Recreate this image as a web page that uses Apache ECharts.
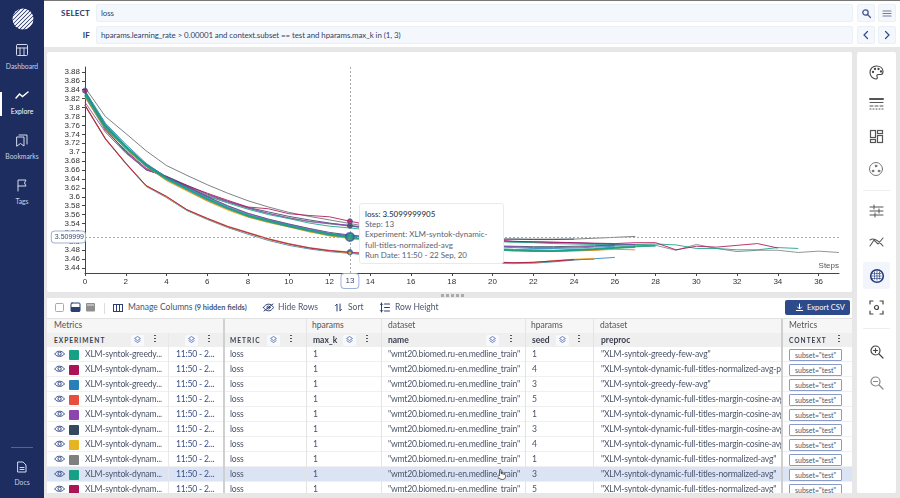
<!DOCTYPE html>
<html>
<head>
<meta charset="utf-8">
<title>Explore</title>
<script src="https://cdn.jsdelivr.net/npm/echarts@6/dist/echarts.min.js"></script>
<style>
html,body{margin:0;padding:0;width:900px;height:498px;overflow:hidden;background:#e7e7e7;font-family:Lato,sans-serif;color:#414b6a}
.abs,.abs *{box-sizing:border-box}
.abs{position:absolute;white-space:nowrap}
svg{display:block;overflow:visible}
.nav{left:0;width:44px;text-align:center;font-size:6.8px;color:#c6cfe6}
.inp{left:96px;width:757px;height:18px;background:#f4f8fd;border:1px solid #eaf0f8;border-radius:2px;font-size:7.9px;letter-spacing:-.07px;line-height:16px;padding-left:4px;color:#33405f}
.lbl{width:50px;left:40px;text-align:right;font-size:8px;letter-spacing:.2px;font-weight:700;color:#27386b}
.btn{width:18px;height:18px;background:#f4f8fd;border:1px solid #eaf0f8;border-radius:2px}
.tool{font-size:8.5px;color:#4a5570;top:302px}
.cell{font-size:8.6px;letter-spacing:-.2px;overflow:hidden;color:#4b5468}
</style>
</head>
<body>
<div class="abs" style="left:0;top:0;width:900px;height:1px;background:#777"></div>
<div class="abs" style="left:44px;top:1px;width:856px;height:46px;background:#fff"></div>
<div class="abs" style="left:0;top:0;width:44px;height:498px;background:#1e2d5f"></div>
<div id="side"></div>

<div class="abs lbl" style="top:8px">SELECT</div>
<div class="abs lbl" style="top:30px">IF</div>
<div class="abs inp" style="top:4px">loss</div>
<div class="abs inp" style="top:26px">hparams.learning_rate &gt; 0.00001 and context.subset == test and hparams.max_k in (1, 3)</div>
<div id="btns"></div>

<div class="abs" style="left:47px;top:52px;width:805px;height:240px;background:#fff;border-radius:2px"></div>
<div id="chart" class="abs" style="left:47px;top:52px;width:805px;height:240px"></div>
<div class="abs" style="left:359px;top:203px;width:145px;height:61px;background:#fff;border:1px solid #e6eaf3;border-radius:3px;padding:5px 5px;font-size:8px;line-height:10.2px;color:#5a6272">
<div style="color:#333a4a;font-weight:500">loss: 3.5099999905</div>
<div>Step: 13</div>
<div>Experiment: XLM-syntok-dynamic-<br>full-titles-normalized-avg</div>
<div>Run Date: 11:50 - 22 Sep, 20</div>
</div>

<div class="abs" style="left:857px;top:52px;width:39px;height:441px;background:#fff;border-radius:2px"></div>
<div id="rightIcons"></div>
<div id="dots"></div>

<div class="abs" style="left:47px;top:298px;width:805px;height:195px;background:#fff;overflow:hidden" id="table"></div>
<div id="toolbar"></div>

<script>
// categories, steps and hover readings
var yTicks = [3.44,3.46,3.48,3.5,3.52,3.54,3.56,3.58,3.6,3.62,3.64,3.66,3.68,3.7,3.72,3.74,3.76,3.78,3.8,3.82,3.84,3.86,3.88];
var hoverStep = 13;
var hoverValue = 3.5099999;
var markerSteps = [0, 13, 13, 13, 13, 13];
var markerValues = [3.838, 3.545, 3.535, 3.51, 3.476, 3.474];
var markerColors = ['#ad1457', '#ad1457', '#34495e', '#16a085', '#2f4a8c', '#f1c40f'];
var markerSizes = [5, 5, 5, 8, 5, 4];

// lower group
var lowBlue = [3.804,3.729,3.674,3.623,3.598,3.569,3.549,3.531,3.516,3.502,3.491,3.483,3.477,3.473,3.469,3.465,3.461,3.458,3.455,3.453,3.451,3.450,3.451,3.454,3.458,3.461,3.464];
var lowRed = [3.806,3.731,3.676,3.625,3.600,3.571,3.552,3.534,3.520,3.506,3.495,3.486,3.480,3.476,3.471,3.467,3.463,3.460,3.457,3.455,3.453,3.452,3.453,3.456,3.459,3.460];
var lowYellow = [3.805,3.730,3.675,3.624,3.599,3.570,3.550,3.532,3.518,3.504,3.493,3.485,3.478,3.474,3.470,3.466,3.462,3.459,3.456,3.454,3.452,3.451,3.452,3.457,3.460,3.462];
var lowPink = [3.805,3.730,3.675,3.625,3.601,3.571,3.551,3.533,3.519,3.505,3.494,3.485,3.479,3.475,3.472,3.468,3.464,3.461,3.458,3.456,3.454,3.452,3.453,3.456,3.459];

// middle group
var midYellow = [3.822,3.752,3.708,3.668,3.636,3.613,3.590,3.570,3.554,3.542,3.532,3.521,3.512,3.506,3.501,3.497,3.493,3.490,3.487,3.485,3.482,3.480,3.478,3.477,3.478,3.480,3.484,3.488,3.491];
var midOrange = [3.824,3.753,3.709,3.669,3.637,3.614,3.591,3.572,3.555,3.543,3.533,3.522,3.513,3.507,3.502,3.498,3.494,3.490,3.487,3.484,3.481,3.480,3.479,3.478,3.479,3.480,3.482,3.481];
var midPurple = [3.832,3.758,3.712,3.672,3.644,3.622,3.599,3.579,3.562,3.549,3.538,3.528,3.518,3.513,3.508,3.504,3.500,3.497,3.494,3.491,3.489,3.488,3.486,3.486,3.487,3.489,3.491,3.493];
var midNavy = [3.836,3.760,3.713,3.673,3.645,3.623,3.600,3.580,3.563,3.550,3.539,3.529,3.520,3.514,3.510,3.506,3.502,3.498,3.495,3.493,3.490,3.489,3.488,3.488,3.489,3.490,3.492];
var midBlue = [3.838,3.765,3.718,3.675,3.643,3.620,3.597,3.577,3.560,3.547,3.537,3.526,3.517,3.512,3.507,3.503,3.499,3.496,3.493,3.490,3.488,3.486,3.484,3.484,3.485,3.487,3.489];
var midTeal = [3.828,3.755,3.711,3.670,3.640,3.617,3.594,3.574,3.557,3.545,3.534,3.524,3.515,3.510,3.505,3.501,3.497,3.494,3.490,3.486,3.483,3.481,3.480,3.479,3.481,3.483,3.486,3.489,3.490];
var midTealB = [3.834,3.762,3.714,3.671,3.641,3.618,3.595,3.575,3.558,3.546,3.535,3.525,3.516,3.509,3.504,3.500,3.496,3.492,3.489,3.485,3.482,3.479,3.478,3.478,3.480,3.482,3.485,3.487];

// upper group
var upGray = [3.845,3.780,3.742,3.703,3.670,3.648,3.627,3.608,3.591,3.577,3.565,3.556,3.548,3.540,3.532,3.526,3.520,3.515,3.511,3.508,3.505,3.505,3.505,3.505,3.505,3.507,3.509,3.511];
var upGrayB = [3.826,3.748,3.702,3.662,3.643,3.622,3.602,3.588,3.574,3.562,3.552,3.544,3.539,3.534,3.528,3.522,3.517,3.512,3.508,3.504,3.501,3.499,3.498,3.497,3.496,3.495,3.494,3.493,3.491,3.480,3.493,3.484,3.477,3.480,3.480,3.475,3.478,3.475];
var upNavy = [3.836,3.752,3.700,3.660,3.646,3.626,3.606,3.590,3.576,3.566,3.556,3.548,3.541,3.535,3.529,3.523,3.518,3.513,3.509,3.506,3.505,3.505,3.504,3.504,3.505];
var upPink = [3.838,3.750,3.703,3.664,3.644,3.625,3.608,3.592,3.577,3.573,3.562,3.558,3.555,3.545,3.536,3.528,3.521,3.515,3.510,3.506,3.503,3.500,3.499,3.498,3.497,3.496,3.495,3.497,3.497,3.481,3.489,3.487,3.491,3.495,3.485];
var upTeal = [3.830,3.758,3.706,3.668,3.642,3.622,3.601,3.586,3.572,3.560,3.551,3.541,3.534,3.530,3.525,3.520,3.515,3.511,3.507,3.503,3.500,3.498,3.497,3.495,3.494,3.493,3.492,3.493,3.494,3.492,3.484,3.484,3.481,3.481,3.486,3.484];
var upPurple = [3.812,3.745,3.698,3.661,3.645,3.624,3.604,3.589,3.575,3.563,3.553,3.545,3.540,3.536,3.530,3.524,3.519,3.514,3.510,3.506,3.503,3.500,3.499,3.498,3.497,3.495,3.493,3.492];

// table rows
var rowColors = ['#16a085','#ad1457','#2980b9','#e74c3c','#8e44ad','#34495e','#e6b422','#7f7f7f','#16a085','#ad1457'];
var experiments = ['XLM-syntok-greedy...','XLM-syntok-dynam...','XLM-syntok-greedy...','XLM-syntok-dynam...','XLM-syntok-dynam...','XLM-syntok-dynam...','XLM-syntok-dynam...','XLM-syntok-dynam...','XLM-syntok-dynam...','XLM-syntok-dynam...'];
var seeds = ['1','4','3','5','1','3','4','1','3','5'];
var preprocs = ['"XLM-syntok-greedy-few-avg"','"XLM-syntok-dynamic-full-titles-normalized-avg-pe','"XLM-syntok-greedy-few-avg"','"XLM-syntok-dynamic-full-titles-margin-cosine-avg','"XLM-syntok-dynamic-full-titles-margin-cosine-avg','"XLM-syntok-dynamic-full-titles-margin-cosine-avg','"XLM-syntok-dynamic-full-titles-margin-cosine-avg','"XLM-syntok-dynamic-full-titles-normalized-avg"','"XLM-syntok-dynamic-full-titles-normalized-avg"','"XLM-syntok-dynamic-full-titles-normalized-avg"'];

function line(values, color, width){
    return {
        type:'line', symbol:'none', silent:true, animation:false,
        data:values.map(function (v, i){ return [i, v]; }),
        lineStyle:{color:color, width:width || 1, opacity:0.85}
    };
}

var series = [
    line(lowBlue,'#2980b9'), line(lowYellow,'#e6b422'), line(lowRed,'#e74c3c'), line(lowPink,'#a01d50'),
    line(upGray,'#666c70'), line(upGrayB,'#7f8487'), line(upNavy,'#34495e'), line(upPurple,'#8e44ad'),
    line(upTeal,'#16a085'), line(upPink,'#ad1457'),
    line(midYellow,'#e6b422'), line(midOrange,'#e67e22'), line(midNavy,'#34495e'), line(midPurple,'#8e44ad'),
    line(midBlue,'#2980b9'), line(midTealB,'#16a085',1.5), line(midTeal,'#16a085',2)
];

// hover crosshair and dots
series.push({
    type:'scatter', silent:true, animation:false, z:5,
    data:markerSteps.map(function (s, i){
        return {
            value:[s, markerValues[i]],
            symbolSize:markerSizes[i],
            itemStyle:{color:markerColors[i], borderColor:'#3d5a9c', borderWidth:i === 3 ? 2 : 1}
        };
    }),
    markLine:{
        silent:true, animation:false, symbol:'none',
        lineStyle:{type:[2,2], color:'#a9a9a9', width:1},
        data:[
            [{coord:[hoverStep,3.429], label:{
                show:true, position:'start', formatter:String(hoverStep), color:'#3d4a6d', fontSize:8,
                backgroundColor:'#fff', borderColor:'#9fb0d8', borderWidth:1, borderRadius:3, padding:[3,4,3,4], distance:1
            }},{coord:[hoverStep,3.891]}],
            [{coord:[0,hoverValue], label:{
                show:true, position:'start', formatter:'3.509999', color:'#3d4a6d', fontSize:7,
                backgroundColor:'#fff', borderColor:'#9fb0d8', borderWidth:1, borderRadius:3, padding:[2,1,2,3], distance:0
            }},{coord:[37,hoverValue]}]
        ]
    }
});

var chart = echarts.init(document.getElementById('chart'));
chart.setOption({
    animation:false,
    backgroundColor:'transparent',
    grid:{left:38, top:15, width:754, height:206, containLabel:false},
    xAxis:{
        type:'value', min:0, max:37, interval:2,
        name:'Steps', nameLocation:'end', nameGap:0,
        nameTextStyle:{align:'right', verticalAlign:'bottom', padding:[0,0,3,0], fontSize:8, color:'#555', fontFamily:'Liberation Sans'},
        splitLine:{show:false},
        axisLine:{lineStyle:{color:'#444'}},
        axisTick:{length:3, lineStyle:{color:'#444'}},
        axisLabel:{fontSize:8, color:'#333', margin:5, showMaxLabel:false, fontFamily:'Liberation Sans'}
    },
    yAxis:{
        type:'value', min:3.429, max:3.891,
        splitLine:{show:false},
        axisLine:{show:true, lineStyle:{color:'#444'}},
        axisTick:{show:true, length:3, lineStyle:{color:'#444'}, customValues:yTicks},
        axisLabel:{fontSize:8, color:'#333', margin:5, customValues:yTicks, fontFamily:'Liberation Sans', formatter:function (v){ return String(+v.toFixed(2)); }}
    },
    series:series
});

// ------- page chrome -------
function el(html){ var d = document.createElement('div'); d.innerHTML = html; return d; }
function svg(x, y, w, h, body, extra){
    return '<div class="abs" style="left:'+x+'px;top:'+y+'px;width:'+w+'px;height:'+h+'px"><svg width="'+w+'" height="'+h+'" viewBox="0 0 '+w+' '+h+'" fill="none" stroke-linecap="round" '+(extra||'')+'>'+body+'</svg></div>';
}

var sideHtml = '';
// logo
var stripes = '';
[-15,-11,-7,-3,1,5,9,13].forEach(function (o){ stripes += '<line x1="'+(o-13)+'" y1="13" x2="'+(o+13)+'" y2="-13"/>'; });
sideHtml += svg(12,8,22,22,'<defs><clipPath id="lc"><circle cx="11" cy="11" r="10.5"/></clipPath></defs><g clip-path="url(#lc)"><g transform="translate(11,11)" stroke-width="2">'+stripes+'</g></g>','stroke="#fff"');
[['Dashboard',67],['Explore',112],['Bookmarks',157],['Tags',202],['Docs',483]].forEach(function (n){
    sideHtml += '<div class="abs nav" style="top:'+(n[1]-5)+'px;'+(n[0]==='Explore'?'color:#fff':'')+'">'+n[0]+'</div>';
});
sideHtml += svg(16,44,12,12,'<rect x=".5" y=".5" width="11" height="11" rx="1"/><path d="M.5 4h11M4 4v7.5M8 4v7.5"/>','stroke="#d5dbec"');
sideHtml += svg(15,91,14,8,'<path d="M1 7l3.5-4 3 2.5L13 1" stroke-width="1.5"/>','stroke="#fff"');
sideHtml += svg(16,134,12,13,'<path d="M3 1h8v9M1 3h7v9L4.5 9.5 1 12z"/>','stroke="#d5dbec"');
sideHtml += svg(17,179,11,12,'<path d="M1 12V1h8l-1.5 3L9 7H1"/>','stroke="#d5dbec"');
sideHtml += svg(17,461,10,12,'<path d="M1 1h5l3 3v7H1zM3 6.5h4M3 8.5h4"/>','stroke="#d5dbec"');
sideHtml += '<div class="abs" style="left:0;top:92px;width:2px;height:24px;background:#fff"></div>';
sideHtml += '<div class="abs" style="left:11px;top:447px;width:22px;height:1px;background:#56648f"></div>';
document.getElementById('side').appendChild(el(sideHtml));

var btnHtml = '';
[[857,4],[878,4],[857,26],[878,26]].forEach(function (b){ btnHtml += '<div class="abs btn" style="left:'+b[0]+'px;top:'+b[1]+'px"></div>'; });
btnHtml += svg(862,9,9,9,'<circle cx="3.5" cy="3.5" r="2.7"/><path d="M5.5 5.5L8.5 8.5"/>','stroke="#43578f" stroke-width="1.3"');
btnHtml += svg(883,10,8,7,'<path d="M0 1h8M0 3.5h8M0 6h8"/>','stroke="#6b7ba8" stroke-width="1.2"');
btnHtml += svg(863,31,5,8,'<path d="M4.5 .5L1 4l3.5 3.5"/>','stroke="#2f4a8c" stroke-width="1.2"');
btnHtml += svg(885,31,5,8,'<path d="M.5 .5L4 4 .5 7.5"/>','stroke="#2f4a8c" stroke-width="1.2"');
document.getElementById('btns').appendChild(el(btnHtml));

var rh = '';
rh += svg(869,65,15,15,'<path d="M7.5 1C3.5 1 1 4 1 7.5S4 14 7 14c1.5 0 1.5-1.5 1-2.5s0-2 1.5-2H12c1.5 0 2-1.5 2-3C14 3 11 1 7.5 1z"/><circle cx="4" cy="7" r=".6"/><circle cx="6" cy="4" r=".6"/><circle cx="9.5" cy="4" r=".6"/><circle cx="12" cy="6.5" r=".6"/>','stroke="#444" stroke-width="1.1"');
rh += svg(870,98,13,13,'<path d="M0 1h13" stroke-width="2"/><path d="M0 4.5h13M0 8h3M5 8h3M10 8h3" stroke-width="1"/><path d="M0 11h1M3 11h1M6 11h1M9 11h1M12 11h1" stroke-width="1"/>','stroke="#555"');
rh += svg(870,130,13,13,'<rect x=".5" y=".5" width="5" height="7"/><rect x="7.5" y=".5" width="5" height="3"/><rect x=".5" y="9.5" width="5" height="3"/><rect x="7.5" y="5.5" width="5" height="7"/>','stroke="#555" stroke-width="1.2"');
rh += svg(869,162,14,14,'<circle cx="7" cy="7" r="6.5"/><circle cx="7" cy="4" r=".9" fill="#666"/><circle cx="4" cy="9" r=".9" fill="#666"/><circle cx="10" cy="9" r=".9" fill="#666"/>','stroke="#777"');
rh += '<div class="abs" style="left:863px;top:190px;width:27px;height:1px;background:#eee"></div>';
rh += svg(870,205,13,12,'<path d="M0 2h13M0 6h13M0 10h13"/><path d="M4 0v4M9 4v4M5 8v4"/>','stroke="#555"');
rh += svg(869,237,15,10,'<path d="M1 9l4-6 4 4 5-6M1 3c4-3 8 0 13 6"/>','stroke="#555" stroke-width="1.1"');
rh += '<div class="abs" style="left:863px;top:262px;width:27px;height:27px;background:#f2f6fc;border-radius:2px"></div>';
rh += svg(870,269,14,14,'<circle cx="7" cy="7" r="6.3" stroke-width="1.6"/><path d="M4.5 3v8M7 2v10M9.5 3v8M2 4.5h10M2 7h10M2 9.5h10" stroke-width=".7" stroke-dasharray="1 1"/>','stroke="#243a78"');
rh += svg(870,301,13,13,'<path d="M0 3V0h3M10 0h3v3M13 10v3h-3M3 13H0v-3"/><circle cx="6.5" cy="6.5" r="2"/>','stroke="#444" stroke-width="1.2"');
rh += '<div class="abs" style="left:863px;top:328px;width:27px;height:1px;background:#eee"></div>';
rh += svg(870,345,14,14,'<circle cx="5.5" cy="5.5" r="4.5"/><path d="M9 9l4 4M3.5 5.5h4M5.5 3.5v4"/>','stroke="#444" stroke-width="1.2"');
rh += svg(870,376,14,14,'<circle cx="5.5" cy="5.5" r="4.5"/><path d="M9 9l4 4M3.5 5.5h4"/>','stroke="#888" stroke-width="1.2"');
document.getElementById('rightIcons').appendChild(el(rh));

var dotsHtml = '';
[441,446,451,456,461].forEach(function (x){ dotsHtml += '<div class="abs" style="left:'+x+'px;top:294px;width:2.5px;height:2.5px;background:#aaa"></div>'; });
document.getElementById('dots').appendChild(el(dotsHtml));

// toolbar
var tb = '';
tb += svg(55,303,10,9,'<rect x=".5" y=".5" width="8" height="8" rx="1" stroke="#aaa"/>');
tb += svg(71,303,9,9,'<rect x="0" y="0" width="9" height="8.5" rx="1" fill="#fff" stroke="#2c3f73"/><rect x="0" y="4" width="9" height="4.5" fill="#2c3f73"/>');
tb += svg(86,303,9,9,'<rect x="0" y="0" width="9" height="8.5" rx="1" fill="#8f8f8f"/><rect x="1" y="1" width="7" height="2" fill="#bbb"/>');
tb += '<div class="abs" style="left:104px;top:303px;width:1px;height:11px;background:#ddd"></div>';
tb += svg(113,304,10,8,'<rect x=".5" y=".5" width="9" height="7"/><path d="M3.5 .5v7M6.5 .5v7"/>','stroke="#2c3f73"');
tb += '<div class="abs tool" style="left:128px">Manage Columns <b style="font-size:7.4px">(9 hidden fields)</b></div>';
tb += svg(263,303,11,9,'<path d="M.5 4.5C3 0 8 0 10.5 4.5 8 9 3 9 .5 4.5zM1 8L10 1"/><circle cx="5.5" cy="4.5" r="1.5"/>','stroke="#2c3f73"');
tb += '<div class="abs tool" style="left:278px">Hide Rows</div>';
tb += svg(335,303,7,9,'<path d="M2 8V1L.5 2.5M5 1v7l1.5-1.5"/>','stroke="#2c3f73"');
tb += '<div class="abs tool" style="left:348px">Sort</div>';
tb += svg(380,303,10,10,'<path d="M1.5 0v9M.3 1.5L1.5.3l1.2 1.2M.3 7.5L1.5 8.8l1.2-1.3M4.5 1h5M4.5 4.5h5M4.5 8h5"/>','stroke="#2c3f73"');
tb += '<div class="abs tool" style="left:395px">Row Height</div>';
tb += '<div class="abs" style="left:785px;top:300px;width:65px;height:15px;background:#2d4a8a;border-radius:2px;color:#fff;font-size:7.5px;line-height:15px;padding-left:22px">Export CSV</div>';
tb += svg(796,304,7,7,'<path d="M3.5 0v4.5M1.5 3l2 2 2-2M.3 6.5h6.4"/>','stroke="#fff"');
document.getElementById('toolbar').appendChild(el(tb));

// table: x positions relative to table panel
var tbl = '';
function box(x, y, w, h, bg, txt, style){
    return '<div class="abs cell" style="left:'+(x-47)+'px;top:'+(y-298)+'px;width:'+w+'px;height:'+h+'px;background:'+bg+';line-height:'+h+'px;'+(style||'')+'">'+(txt||'')+'</div>';
}
tbl += box(47,318,805,15,'#f6f6f6');
tbl += box(47,333,805,14,'#efefef');
[['Metrics',54],['hparams',312],['dataset',388],['hparams',531],['dataset',600],['Metrics',789]].forEach(function (g){
    tbl += box(g[1],318,70,15,'transparent',g[0],'color:#555;font-size:8.5px;letter-spacing:0');
});
var hStyle = 'font-weight:700;color:#3a3f4d;letter-spacing:0;';
[['EXPERIMENT',54,'letter-spacing:1px;font-size:6.6px'],['METRIC',230,'letter-spacing:1px;font-size:6.6px'],['max_k',313,'font-size:8.5px'],['name',388,'font-size:8.5px'],['seed',532,'font-size:8.5px'],['preproc',601,'font-size:8.5px'],['CONTEXT',789,'letter-spacing:1px;font-size:6.6px']].forEach(function (h){
    tbl += box(h[1],333,70,14,'transparent',h[0],hStyle+h[2]);
});
[[136,335],[190,335],[272,335],[348,335],[491,335],[561,335]].forEach(function (p){
    tbl += '<div class="abs" style="left:'+(p[0]-47-5)+'px;top:'+(p[1]-298)+'px;width:13px;height:11px;background:#f7f9fd;border-radius:2px"></div>';
    tbl += '<div class="abs" style="left:'+(p[0]-47-2)+'px;top:'+(p[1]-298+1)+'px">'+'<svg width="7" height="8" fill="none" stroke="#4c66a8" stroke-width=".8"><path d="M3.5 .5l3 2-3 2-3-2zM.5 4.5l3 2 3-2"/></svg></div>';
});
[154,208,290,366,510,578,838].forEach(function (x){
    tbl += '<div class="abs" style="left:'+(x-47)+'px;top:37px;width:1.5px;height:9px;background-image:linear-gradient(#555 50%,transparent 50%);background-size:2px 3px"></div>';
});
rowColors.forEach(function (c, i){
    var y = 347 + i*15, bg = i === 8 ? '#dbe4f5' : '#fff';
    tbl += box(47,y,805,15,bg,'','border-bottom:1px solid #f0f0f0');
    tbl += '<div class="abs" style="left:7px;top:'+(y-298+2.5)+'px">'+'<svg width="12" height="9" fill="none" stroke="#3b5189" stroke-width="1"><path d="M.7 4C3 .3 8 .3 10.5 4 8 7.2 3 7.2 .7 4z"/><circle cx="5.6" cy="3.8" r="1.6"/></svg></div>';
    tbl += '<div class="abs" style="left:22px;top:'+(y-298+2.5)+'px;width:10px;height:10px;background:'+c+';border-radius:1px"></div>';
    tbl += box(85,y,83,15,'transparent',experiments[i]);
    tbl += box(176,y,47,15,'transparent','11:50 - 2...','color:#3b5189');
    tbl += box(230,y,60,15,'transparent','loss');
    tbl += box(313,y,40,15,'transparent','1');
    tbl += box(388,y,136,15,'transparent','"wmt20.biomed.ru-en.medline_train"');
    tbl += box(532,y,40,15,'transparent',seeds[i]);
    tbl += box(601,y,180,15,'transparent',preprocs[i]);
    tbl += '<div class="abs" style="left:'+(789-47)+'px;top:'+(y-298+1.5)+'px;width:53px;height:12px;background:#fff;border:1px solid #8a9bc8;border-radius:1px;font-size:7px;line-height:10px;text-align:center;color:#4a5570">subset="test"</div>';
});
[[223,20,1.5,'#d0d0d0'],[306,20,1,'#e4e4e4'],[381,20,1,'#e4e4e4'],[525,20,1,'#e4e4e4'],[593,20,1,'#e4e4e4'],[781,20,1.5,'#cfcfcf'],[168,35,1,'#e8e8e8']].forEach(function (s){
    tbl += '<div class="abs" style="left:'+(s[0]-47)+'px;top:'+s[1]+'px;width:'+s[2]+'px;height:'+(195-s[1])+'px;background:'+s[3]+'"></div>';
});
tbl += '<div class="abs" style="left:0;top:20px;width:805px;height:1px;background:#e2e2e2"></div>';
document.getElementById('table').innerHTML = tbl;
// hand cursor over the hovered row
document.getElementById('toolbar').appendChild(el(svg(497,469,9,11,'<path d="M2.5 6V1.2c0-1 1.5-1 1.5 0V4.5l3.5.8c1 .3 1 1 1 2 0 2-1 3.2-3 3.2-2.5 0-3-1-4.5-3-.6-1 .5-1.8 1.5-1z" fill="#fff" stroke="#222" stroke-width=".7"/>')));
</script>
</body>
</html>
